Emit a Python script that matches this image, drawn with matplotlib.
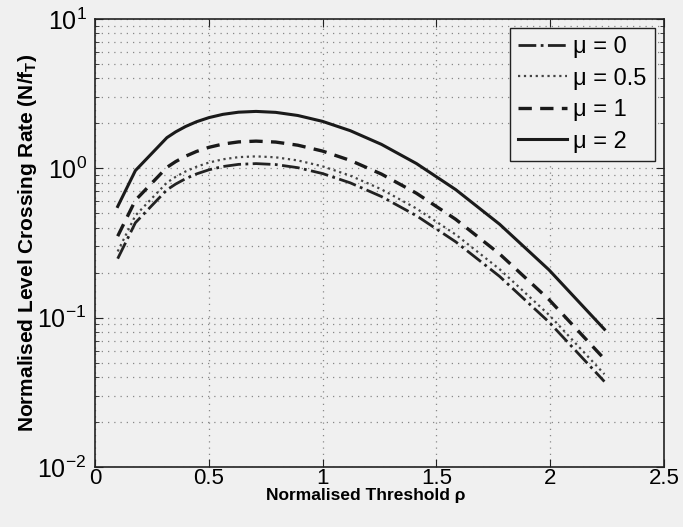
import numpy as np
import matplotlib
matplotlib.use("Agg")
import matplotlib.pyplot as plt
from matplotlib.ticker import LogLocator, NullFormatter

plt.rcParams['font.family'] = ['Liberation Sans', 'DejaVu Sans']
plt.rcParams['mathtext.default'] = 'regular'

# normalised threshold rho (sampled in dB steps)
rho = [0.1000, 0.1778, 0.3162, 0.3548, 0.3981, 0.4467, 0.5012, 0.5623, 0.6310, 0.7079,
       0.7943, 0.8913, 1.0000, 1.1220, 1.2589, 1.4125, 1.5849, 1.7783, 1.9953, 2.2387]

# normalised level crossing rate for each mu
lcr_mu0 = [0.2482, 0.4319, 0.7172, 0.7842, 0.8516, 0.9171, 0.9772, 1.0274, 1.0622, 1.0750,
           1.0594, 1.0096, 0.9221, 0.7987, 0.6468, 0.4815, 0.3222, 0.1887, 0.0933, 0.0373]
lcr_mu05 = [0.2775, 0.4828, 0.8019, 0.8768, 0.9522, 1.0254, 1.0926, 1.1487, 1.1876, 1.2019,
            1.1845, 1.1287, 1.0310, 0.8930, 0.7231, 0.5383, 0.3603, 0.2109, 0.1043, 0.0418]
lcr_mu1 = [0.3510, 0.6108, 1.0143, 1.1090, 1.2044, 1.2970, 1.3820, 1.4530, 1.5022, 1.5203,
           1.4983, 1.4278, 1.3041, 1.1295, 0.9147, 0.6809, 0.4557, 0.2668, 0.1320, 0.0528]
lcr_mu2 = [0.5549, 0.9657, 1.6038, 1.7535, 1.9043, 2.0508, 2.1852, 2.2974, 2.3752, 2.4039,
           2.3690, 2.2575, 2.0620, 1.7859, 1.4463, 1.0766, 0.7205, 0.4219, 0.2087, 0.0835]

xticks = [0, 0.5, 1, 1.5, 2, 2.5]
xticklabels = ['0', '0.5', '1', '1.5', '2', '2.5']

bg = '#f0f0f0'
fig = plt.figure(figsize=(6.83, 5.27), dpi=100, facecolor=bg)
ax = fig.add_axes([0.139, 0.114, 0.833, 0.850], facecolor=bg)

ax.semilogy(rho, lcr_mu0, '-.', color='#222222', lw=2.0, label=u'\u03bc = 0')
ax.semilogy(rho, lcr_mu05, ':', color='#444444', lw=1.6, label=u'\u03bc = 0.5')
ax.semilogy(rho, lcr_mu1, '--', color='#1a1a1a', lw=2.4, dashes=(4, 2.5), label=u'\u03bc = 1')
ax.semilogy(rho, lcr_mu2, '-', color='#1a1a1a', lw=2.2, label=u'\u03bc = 2')

ax.set_xlim(0, 2.5)
ax.set_ylim(1e-2, 1e1)
ax.set_xticks(xticks, xticklabels)
ax.yaxis.set_major_locator(LogLocator(base=10, numticks=10))
ax.yaxis.set_minor_locator(LogLocator(base=10, subs=np.arange(2, 10), numticks=20))
ax.yaxis.set_minor_formatter(NullFormatter())

ax.grid(True, which='major', linestyle=(0, (1, 4)), color='#888888', lw=0.9)
ax.grid(True, which='minor', axis='y', linestyle=(0, (1, 4)), color='#888888', lw=0.9)

ax.tick_params(which='both', direction='in', top=True, right=True, color='#222222')
ax.tick_params(axis='x', labelsize=16, pad=1)
ax.tick_params(axis='y', labelsize=18, pad=6)
ax.tick_params(which='major', length=6)
ax.tick_params(which='minor', length=3)
for s in ax.spines.values():
    s.set_linewidth(1.2)
    s.set_color('#222222')

ax.set_xlabel(u'Normalised Threshold \u03c1', fontsize=12.5, fontweight='bold', va='center')
ax.xaxis.set_label_coords(0.476, -0.064)
ax.set_ylabel('Normalised Level Crossing Rate (N/f$_{T}$)', fontsize=15, fontweight='bold', va='center')
ax.yaxis.set_label_coords(-0.118, 0.5)

leg = ax.legend(loc='upper right', fontsize=17, frameon=True, fancybox=False, framealpha=1,
                facecolor=bg, edgecolor='#222222', handlelength=2.1, handletextpad=0.25,
                borderaxespad=0.38, labelspacing=0.4, borderpad=0.35)
leg.get_frame().set_linewidth(1.0)

fig.savefig('out.png', dpi=100, facecolor=bg)
